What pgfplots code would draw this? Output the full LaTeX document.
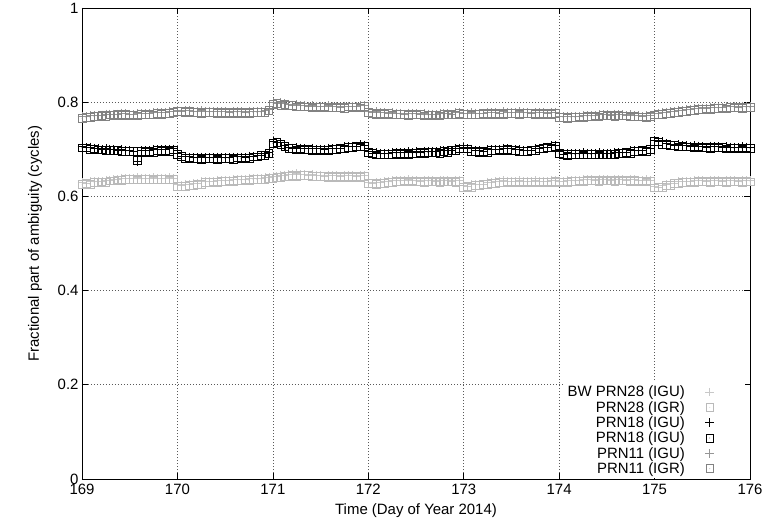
\documentclass[border=0pt]{standalone}
\usepackage{fontspec}
\setmainfont{Liberation Sans}
\usepackage{pgfplots}
\usepackage{pgfplotstable}
\pgfplotsset{compat=1.18}
\usetikzlibrary{calc}

\definecolor{pzu}{RGB}{200,200,200}
\definecolor{pzr}{RGB}{186,186,186}
\definecolor{pou}{RGB}{150,150,150}
\definecolor{por}{RGB}{130,130,130}
\definecolor{gridc}{RGB}{90,90,90}

% square with a dot in the middle, as gnuplot draws it
\pgfdeclareplotmark{dsquare}{%
  \pgfpathrectangle{\pgfqpoint{-\pgfplotmarksize}{-\pgfplotmarksize}}{\pgfqpoint{2\pgfplotmarksize}{2\pgfplotmarksize}}%
  \pgfusepathqstroke
  \pgfpathcircle{\pgfpointorigin}{0.4pt}%
  \pgfusepathqfill}

% h = hours since day 169.0
% a: BW PRN28 (IGU)  b: PRN28 (IGR)  c: PRN18 (IGU)  d: PRN18 (IGR)  e: PRN11 (IGU)  f: PRN11 (IGR)
\pgfplotstableread{
h a b c d e f
0 0.629 0.626 0.706 0.703 0.769 0.766
1 0.628 0.627 0.704 0.703 0.769 0.768
2 0.631 0.626 0.705 0.700 0.772 0.767
3 0.631 0.629 0.703 0.701 0.772 0.770
4 0.632 0.629 0.702 0.699 0.773 0.770
5 0.632 0.631 0.700 0.699 0.773 0.772
6 0.635 0.630 0.702 0.697 0.775 0.770
7 0.635 0.633 0.700 0.698 0.775 0.773
8 0.636 0.633 0.700 0.697 0.775 0.772
9 0.636 0.635 0.698 0.697 0.775 0.774
10 0.639 0.634 0.700 0.695 0.777 0.772
11 0.638 0.636 0.698 0.696 0.776 0.774
12 0.639 0.636 0.698 0.695 0.775 0.772
13 0.638 0.637 0.696 0.695 0.774 0.773
14 0.640 0.635 0.674 0.676 0.776 0.771
15 0.639 0.637 0.697 0.695 0.776 0.774
16 0.639 0.636 0.697 0.694 0.776 0.773
17 0.638 0.637 0.697 0.696 0.776 0.775
18 0.640 0.635 0.699 0.694 0.778 0.773
19 0.639 0.637 0.699 0.697 0.778 0.776
20 0.639 0.636 0.699 0.696 0.778 0.775
21 0.638 0.637 0.699 0.698 0.778 0.777
22 0.640 0.635 0.701 0.696 0.781 0.776
23 0.639 0.637 0.701 0.699 0.781 0.779
24 0.625 0.622 0.692 0.689 0.783 0.780
25 0.623 0.622 0.686 0.685 0.781 0.780
26 0.626 0.621 0.686 0.681 0.783 0.778
27 0.626 0.624 0.684 0.682 0.782 0.780
28 0.627 0.624 0.683 0.680 0.781 0.778
29 0.627 0.626 0.682 0.681 0.780 0.779
30 0.631 0.626 0.684 0.679 0.782 0.777
31 0.631 0.629 0.683 0.681 0.781 0.779
32 0.632 0.629 0.683 0.680 0.781 0.778
33 0.632 0.631 0.682 0.681 0.780 0.779
34 0.635 0.630 0.684 0.679 0.781 0.776
35 0.634 0.632 0.683 0.681 0.780 0.778
36 0.635 0.632 0.683 0.680 0.780 0.777
37 0.634 0.633 0.682 0.681 0.779 0.778
38 0.637 0.632 0.684 0.679 0.781 0.776
39 0.636 0.634 0.684 0.682 0.780 0.778
40 0.637 0.634 0.684 0.681 0.780 0.777
41 0.636 0.635 0.683 0.682 0.779 0.778
42 0.639 0.634 0.686 0.681 0.781 0.776
43 0.638 0.636 0.686 0.684 0.780 0.778
44 0.639 0.636 0.687 0.684 0.781 0.778
45 0.638 0.637 0.688 0.687 0.780 0.779
46 0.641 0.636 0.692 0.687 0.783 0.778
47 0.640 0.638 0.693 0.691 0.785 0.783
48 0.642 0.639 0.716 0.713 0.799 0.796
49 0.642 0.641 0.715 0.714 0.798 0.797
50 0.645 0.640 0.715 0.710 0.799 0.794
51 0.645 0.643 0.708 0.706 0.797 0.795
52 0.646 0.643 0.705 0.702 0.796 0.793
53 0.646 0.645 0.703 0.702 0.794 0.793
54 0.648 0.643 0.704 0.699 0.795 0.790
55 0.647 0.645 0.703 0.701 0.793 0.791
56 0.647 0.644 0.702 0.699 0.793 0.790
57 0.645 0.644 0.701 0.700 0.791 0.790
58 0.647 0.642 0.703 0.698 0.793 0.788
59 0.645 0.643 0.701 0.699 0.792 0.790
60 0.645 0.642 0.701 0.698 0.792 0.789
61 0.643 0.642 0.700 0.699 0.791 0.790
62 0.645 0.640 0.703 0.698 0.793 0.788
63 0.644 0.642 0.702 0.700 0.791 0.789
64 0.644 0.641 0.703 0.700 0.791 0.788
65 0.643 0.642 0.703 0.702 0.790 0.789
66 0.645 0.640 0.706 0.701 0.792 0.787
67 0.644 0.642 0.706 0.704 0.792 0.790
68 0.644 0.641 0.707 0.704 0.792 0.789
69 0.643 0.642 0.707 0.706 0.791 0.790
70 0.645 0.640 0.710 0.705 0.793 0.788
71 0.644 0.642 0.709 0.707 0.793 0.791
72 0.630 0.627 0.696 0.693 0.781 0.778
73 0.628 0.627 0.692 0.691 0.778 0.777
74 0.630 0.625 0.693 0.688 0.780 0.775
75 0.630 0.628 0.692 0.690 0.778 0.776
76 0.631 0.628 0.692 0.689 0.778 0.775
77 0.631 0.630 0.691 0.690 0.777 0.776
78 0.634 0.629 0.694 0.689 0.778 0.773
79 0.634 0.632 0.693 0.691 0.777 0.775
80 0.634 0.631 0.693 0.690 0.777 0.774
81 0.634 0.633 0.693 0.692 0.775 0.774
82 0.636 0.631 0.695 0.690 0.777 0.772
83 0.635 0.633 0.694 0.692 0.776 0.774
84 0.634 0.631 0.695 0.692 0.776 0.773
85 0.633 0.632 0.694 0.693 0.775 0.774
86 0.635 0.630 0.696 0.691 0.776 0.771
87 0.634 0.632 0.695 0.693 0.775 0.773
88 0.634 0.631 0.696 0.693 0.775 0.772
89 0.633 0.632 0.695 0.694 0.774 0.773
90 0.635 0.630 0.697 0.692 0.776 0.771
91 0.634 0.632 0.697 0.695 0.776 0.774
92 0.634 0.631 0.697 0.694 0.776 0.773
93 0.633 0.632 0.698 0.697 0.775 0.774
94 0.635 0.630 0.702 0.697 0.778 0.773
95 0.634 0.632 0.703 0.701 0.778 0.776
96 0.623 0.620 0.704 0.701 0.777 0.774
97 0.622 0.621 0.702 0.701 0.776 0.775
98 0.625 0.620 0.701 0.696 0.778 0.773
99 0.625 0.623 0.698 0.696 0.777 0.775
100 0.626 0.623 0.697 0.694 0.777 0.774
101 0.626 0.625 0.696 0.695 0.777 0.776
102 0.630 0.625 0.699 0.694 0.779 0.774
103 0.630 0.628 0.699 0.697 0.778 0.776
104 0.631 0.628 0.700 0.697 0.778 0.775
105 0.631 0.630 0.700 0.699 0.777 0.776
106 0.634 0.629 0.703 0.698 0.780 0.775
107 0.633 0.631 0.702 0.700 0.779 0.777
108 0.633 0.630 0.701 0.698 0.779 0.776
109 0.632 0.631 0.699 0.698 0.778 0.777
110 0.634 0.629 0.700 0.695 0.780 0.775
111 0.633 0.631 0.698 0.696 0.779 0.777
112 0.633 0.630 0.698 0.695 0.779 0.776
113 0.632 0.631 0.698 0.697 0.777 0.776
114 0.634 0.629 0.702 0.697 0.779 0.774
115 0.633 0.631 0.703 0.701 0.778 0.776
116 0.633 0.630 0.705 0.702 0.778 0.775
117 0.632 0.631 0.705 0.704 0.777 0.776
118 0.635 0.630 0.708 0.703 0.779 0.774
119 0.634 0.632 0.708 0.706 0.779 0.777
120 0.633 0.630 0.695 0.692 0.770 0.767
121 0.632 0.631 0.690 0.689 0.769 0.768
122 0.635 0.630 0.691 0.686 0.771 0.766
123 0.634 0.632 0.691 0.689 0.770 0.768
124 0.635 0.632 0.692 0.689 0.771 0.768
125 0.634 0.633 0.691 0.690 0.770 0.769
126 0.637 0.632 0.693 0.688 0.772 0.767
127 0.636 0.634 0.692 0.690 0.772 0.770
128 0.636 0.633 0.692 0.689 0.772 0.769
129 0.635 0.634 0.691 0.690 0.772 0.771
130 0.637 0.632 0.693 0.688 0.774 0.769
131 0.636 0.634 0.692 0.690 0.774 0.772
132 0.636 0.633 0.692 0.689 0.774 0.771
133 0.635 0.634 0.691 0.690 0.773 0.772
134 0.637 0.632 0.694 0.689 0.775 0.770
135 0.636 0.634 0.693 0.691 0.774 0.772
136 0.636 0.633 0.694 0.691 0.774 0.771
137 0.635 0.634 0.694 0.693 0.772 0.771
138 0.637 0.632 0.697 0.692 0.774 0.769
139 0.636 0.634 0.697 0.695 0.772 0.770
140 0.635 0.632 0.698 0.695 0.772 0.769
141 0.634 0.633 0.698 0.697 0.770 0.769
142 0.636 0.631 0.701 0.696 0.772 0.767
143 0.635 0.633 0.702 0.700 0.772 0.770
144 0.621 0.618 0.720 0.717 0.776 0.773
145 0.620 0.619 0.717 0.716 0.776 0.775
146 0.624 0.619 0.716 0.711 0.779 0.774
147 0.625 0.623 0.713 0.711 0.779 0.777
148 0.627 0.624 0.711 0.708 0.780 0.777
149 0.628 0.627 0.709 0.708 0.780 0.779
150 0.632 0.627 0.710 0.705 0.783 0.778
151 0.632 0.630 0.708 0.706 0.783 0.781
152 0.633 0.630 0.708 0.705 0.784 0.781
153 0.632 0.631 0.706 0.705 0.784 0.783
154 0.635 0.630 0.708 0.703 0.787 0.782
155 0.634 0.632 0.707 0.705 0.787 0.785
156 0.634 0.631 0.706 0.703 0.788 0.785
157 0.633 0.632 0.705 0.704 0.787 0.786
158 0.635 0.630 0.707 0.702 0.790 0.785
159 0.634 0.632 0.706 0.704 0.789 0.787
160 0.634 0.631 0.706 0.703 0.790 0.787
161 0.633 0.632 0.705 0.704 0.789 0.788
162 0.635 0.630 0.706 0.701 0.791 0.786
163 0.634 0.632 0.705 0.703 0.791 0.789
164 0.634 0.631 0.705 0.702 0.791 0.788
165 0.633 0.632 0.704 0.703 0.790 0.789
166 0.635 0.630 0.706 0.701 0.792 0.787
167 0.634 0.632 0.705 0.703 0.791 0.789
168 0.634 0.631 0.705 0.702 0.792 0.789
}\amb

\begin{document}
\begin{tikzpicture}
\begin{axis}[
    scale only axis,
    width=668bp, height=471bp,
    xmin=0, xmax=168, ymin=0, ymax=1,
    xtick={0,24,48,72,96,120,144,168},
    xticklabels={169,170,171,172,173,174,175,176},
    ytick={0,0.2,0.4,0.6,0.8,1},
    tick align=inside,
    major tick length=6bp,
    tick style={black, line width=0.6bp},
    axis line style={black, line width=0.9bp},
    grid=major,
    grid style={gridc, line width=0.6bp, dash pattern=on 0.8bp off 2.2bp},
    xlabel={Time (Day of Year 2014)},
    ylabel={Fractional part of ambiguity (cycles)},
    xlabel style={at={(axis description cs:0.5,-0.0679)}, anchor=center},
    ylabel style={at={(axis description cs:-0.0704,0.5)}, anchor=center},
    label style={font=\fontsize{15}{17}\selectfont},
    tick label style={font=\fontsize{15}{17}\selectfont},
    xticklabel style={yshift=-2bp},
    /pgf/number format/assume math mode=true,
    legend style={
        at={(0.9925,0.001)}, anchor=south east,
        draw=none, fill=white, inner xsep=3bp, inner ysep=2bp,
        font=\fontsize{15}{17}\selectfont,
        nodes={inner ysep=1.5bp, inner xsep=2bp},
        column sep=15bp,
    },
    legend cell align=right,
    legend plot pos=right,
    legend image code/.code={%
        \path[draw=none, fill=none] (0bp,0bp) -- (40bp,0bp);
        \draw[#1, only marks] plot coordinates {(8bp,0bp)};},
]
\addplot[only marks, mark=+, mark size=4.3bp, color=pzu, mark options={line width=0.7bp}]
    table[x=h, y=a]{\amb};
\addplot[only marks, mark=dsquare, mark size=3.9bp, color=pzr, mark options={line width=0.7bp}]
    table[x=h, y=b]{\amb};
\addplot[only marks, mark=+, mark size=4.3bp, color=black, mark options={line width=0.7bp}]
    table[x=h, y=c]{\amb};
\addplot[only marks, mark=dsquare, mark size=3.9bp, color=black, mark options={line width=0.7bp}]
    table[x=h, y=d]{\amb};
\addplot[only marks, mark=+, mark size=4.3bp, color=pou, mark options={line width=0.7bp}]
    table[x=h, y=e]{\amb};
\addplot[only marks, mark=dsquare, mark size=3.9bp, color=por, mark options={line width=0.7bp}]
    table[x=h, y=f]{\amb};
\legend{BW PRN28 (IGU), PRN28 (IGR), PRN18 (IGU), PRN18 (IGU), PRN11 (IGU), PRN11 (IGR)}
\end{axis}
\pgfresetboundingbox
\path ($(current axis.south west)+(-82bp,-50bp)$) rectangle ($(current axis.north east)+(19bp,8bp)$);
\end{tikzpicture}
\end{document}
